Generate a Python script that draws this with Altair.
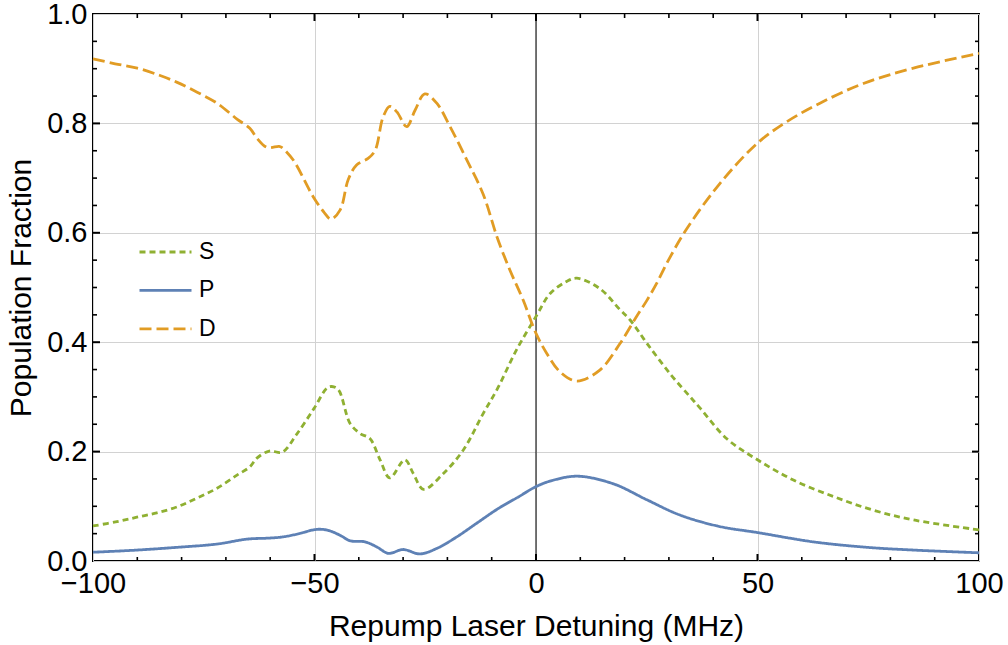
import altair as alt
import pandas as pd

# ---- data ----
series_names = ["S", "P", "D"]
series_colors = ["#8FB032", "#5E81B5", "#E19C24"]
series_dashes = [[6, 4], [1, 0], [12, 5]]

x_label_values = [-100, -50, 0, 50, 100]
y_label_values = [0.0, 0.2, 0.4, 0.6, 0.8, 1.0]
x_major_ticks = [-50, 0, 50]
x_minor_ticks = [-90, -80, -70, -60, -40, -30, -20, -10, 10, 20, 30, 40, 60, 70, 80, 90]
y_major_ticks = [0.2, 0.4, 0.6, 0.8]
y_minor_ticks = [0.05, 0.1, 0.15, 0.25, 0.3, 0.35, 0.45, 0.5, 0.55, 0.65, 0.7, 0.75, 0.85, 0.9, 0.95]
zero_line = [0]

d_x = [-100, -95, -90, -85, -81, -76.5, -72, -67.5, -64.6, -63, -60.7, -58, -57.4, -54.8, -50.3,
       -47.8, -46.3, -44.2, -42.4, -40.5, -37.9, -36.3, -34.5, -33, -31.4, -29.2, -27.3, -25.1,
       -22.4, -19.4, -15.6, -11.9, -8.7, -5.9, -2.9, 0, 2.4, 5.4, 9.2, 14.4, 19, 22.7, 25, 27.2,
       29.9, 34, 41.5, 50, 56.6, 64.1, 73.9, 85.2, 100]
d_y = [0.918, 0.909, 0.901, 0.888, 0.875, 0.857, 0.837, 0.808, 0.791, 0.773, 0.756, 0.758, 0.756,
       0.733, 0.666, 0.637, 0.625, 0.642, 0.697, 0.724, 0.736, 0.751, 0.812, 0.831, 0.821, 0.794,
       0.824, 0.854, 0.837, 0.794, 0.733, 0.670, 0.590, 0.532, 0.477, 0.416, 0.380, 0.346, 0.329,
       0.349, 0.398, 0.447, 0.476, 0.507, 0.550, 0.607, 0.690, 0.764, 0.803, 0.837, 0.873, 0.901,
       0.928]

s_x = [-100, -94.6, -90.1, -85.6, -81, -76.5, -72, -67.5, -64.6, -63, -60.2, -57.3, -54, -50.1,
       -47.2, -46.1, -44.6, -42, -39.7, -37.5, -35.2, -33, -29.6, -27.7, -25.4, -20.9, -16.4,
       -11.9, -8.7, -4.4, 0, 3.2, 6.9, 9.2, 14.4, 19, 21.2, 25.3, 30.5, 34.8, 37, 43, 50, 58.1,
       67.1, 76.1, 85.2, 100]
s_y = [0.064, 0.072, 0.080, 0.088, 0.099, 0.115, 0.133, 0.157, 0.172, 0.188, 0.201, 0.199, 0.232,
       0.279, 0.316, 0.319, 0.313, 0.252, 0.233, 0.224, 0.185, 0.152, 0.185, 0.160, 0.131, 0.160,
       0.203, 0.270, 0.315, 0.386, 0.447, 0.489, 0.511, 0.517, 0.498, 0.459, 0.441, 0.395, 0.340,
       0.300, 0.280, 0.224, 0.185, 0.148, 0.118, 0.093, 0.075, 0.057]

p_x = [-100, -90, -81, -72, -65.2, -60, -57.2, -53.5, -50.2, -48.5, -46.5, -44, -42, -38.6, -36,
       -33.3, -30, -26.2, -22.4, -17.9, -13.4, -8.5, -4, 0, 4, 9.5, 17.5, 25, 32.5, 41.5, 50, 62.6,
       74.7, 85.2, 100]
p_y = [0.016, 0.020, 0.025, 0.031, 0.040, 0.042, 0.044, 0.050, 0.057, 0.058, 0.055, 0.046, 0.037,
       0.035, 0.026, 0.014, 0.021, 0.013, 0.023, 0.044, 0.069, 0.096, 0.117, 0.136, 0.148, 0.155,
       0.141, 0.112, 0.084, 0.063, 0.052, 0.035, 0.025, 0.020, 0.015]

rows = []
for name, xs_, ys_ in [("S", s_x, s_y), ("P", p_x, p_y), ("D", d_x, d_y)]:
    for xv, yv in zip(xs_, ys_):
        rows.append({"detuning": xv, "fraction": yv, "series": name})
df = pd.DataFrame(rows)

W, H = 886, 547
FONT = "Liberation Sans"
xscale = alt.Scale(domain=[-100, 100], nice=False, zero=False)
yscale = alt.Scale(domain=[0, 1], nice=False, zero=False)

xaxis = alt.Axis(values=x_label_values, title="Repump Laser Detuning (MHz)",
                 grid=True, gridColor="#d2d2d2", gridWidth=1, ticks=False, domain=False,
                 labelExpr="replace(datum.label, '-', '\u2212')", labelFlush=False,
                 labelFont=FONT, titleFont=FONT, labelColor="black", titleColor="black",
                 titleFontWeight="normal",
                 labelPadding=8, labelFontSize=29, titleFontSize=30, titlePadding=13)
yaxis = alt.Axis(values=y_label_values, format=".1f", title="Population Fraction",
                 grid=True, gridColor="#d2d2d2", gridWidth=1, ticks=False, domain=False,
                 labelFlush=False,
                 labelFont=FONT, titleFont=FONT, labelColor="black", titleColor="black",
                 titleFontWeight="normal",
                 labelPadding=6, labelFontSize=29, titleFontSize=30, titlePadding=10)

legend = alt.Legend(
    title=None, orient="none", legendX=45, legendY=227,
    symbolType="stroke", symbolSize=2704, symbolStrokeWidth=2.8,
    labelFontSize=23, labelFont=FONT, labelColor="black", labelOffset=6,
    rowPadding=15.4, padding=0, clipHeight=22,
)

lines = alt.Chart(df).mark_line(interpolate="catmull-rom", strokeWidth=2.8).encode(
    x=alt.X("detuning:Q", scale=xscale, axis=xaxis),
    y=alt.Y("fraction:Q", scale=yscale, axis=yaxis),
    color=alt.Color("series:N", scale=alt.Scale(domain=series_names, range=series_colors),
                    legend=legend),
    strokeDash=alt.StrokeDash("series:N",
                              scale=alt.Scale(domain=series_names, range=series_dashes),
                              legend=legend),
)

zero_rule = alt.Chart(pd.DataFrame({"detuning": zero_line})).mark_rule(
    color="#222222", strokeWidth=1.2).encode(x=alt.X("detuning:Q", scale=xscale, axis=xaxis))


def xticks(vals, length, width):
    d = pd.DataFrame({"detuning": vals})
    bottom = alt.Chart(d).mark_rule(color="black", strokeWidth=width).encode(
        x=alt.X("detuning:Q", scale=xscale, axis=xaxis), y=alt.value(H), y2=alt.value(H - length))
    top = alt.Chart(d).mark_rule(color="black", strokeWidth=width).encode(
        x=alt.X("detuning:Q", scale=xscale, axis=xaxis), y=alt.value(0), y2=alt.value(length))
    return [bottom, top]


def yticks(vals, length, width):
    d = pd.DataFrame({"fraction": vals})
    left = alt.Chart(d).mark_rule(color="black", strokeWidth=width).encode(
        y=alt.Y("fraction:Q", scale=yscale, axis=yaxis), x=alt.value(0), x2=alt.value(length))
    right = alt.Chart(d).mark_rule(color="black", strokeWidth=width).encode(
        y=alt.Y("fraction:Q", scale=yscale, axis=yaxis), x=alt.value(W), x2=alt.value(W - length))
    return [left, right]


layers = [zero_rule, lines]
layers += xticks(x_major_ticks, 7, 2) + xticks(x_minor_ticks, 4, 1.6)
layers += yticks(y_major_ticks, 7, 2) + yticks(y_minor_ticks, 4, 1.6)

chart = alt.layer(*layers).properties(
    width=W, height=H,
    background="white",
    autosize=alt.AutoSizeParams(type="none"),
    padding={"left": 93, "top": 14, "right": 29, "bottom": 84},
).configure_view(stroke="black", strokeWidth=2)

chart.save("out.html", embed_options={"renderer": "svg", "actions": False})
